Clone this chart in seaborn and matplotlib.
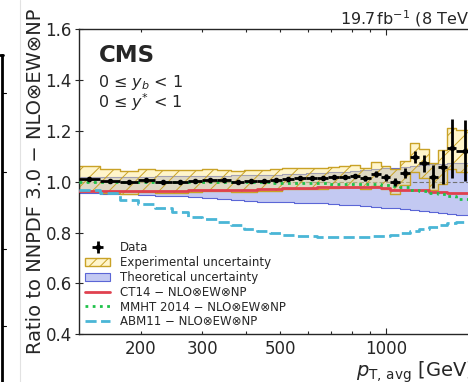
import matplotlib
matplotlib.use("Agg")
import matplotlib.pyplot as plt
import numpy as np
import pandas as pd
import seaborn as sns
from matplotlib.lines import Line2D
from matplotlib.patches import Patch

# p_T,avg bin edges [GeV]
pt_edges = [133, 153, 174, 196, 220, 245, 272, 300, 330, 362, 395, 430, 468, 507,
            548, 592, 638, 686, 737, 790, 846, 905, 967, 1032, 1101, 1172, 1248,
            1327, 1410, 1497, 1588, 1784]

# ratio of data to NNPDF 3.0 prediction
data_ratio = [1.012, 1.004, 0.998, 1.005, 1.000, 1.000, 1.002, 1.008, 1.005, 1.001,
              1.003, 1.004, 1.007, 1.012, 1.013, 1.013, 1.013, 1.017, 1.020, 1.022,
              1.013, 1.030, 1.017, 1.000, 1.036, 1.097, 1.072, 1.020, 1.058, 1.131,
              1.122]
stat_unc = [0.002, 0.002, 0.002, 0.002, 0.002, 0.002, 0.002, 0.002, 0.002, 0.002,
            0.003, 0.003, 0.003, 0.004, 0.004, 0.005, 0.005, 0.006, 0.007, 0.008,
            0.009, 0.011, 0.013, 0.016, 0.020, 0.024, 0.033, 0.045, 0.065, 0.115,
            0.120]
exp_unc = [0.050, 0.048, 0.045, 0.045, 0.045, 0.045, 0.044, 0.043, 0.042, 0.042,
           0.042, 0.042, 0.042, 0.041, 0.041, 0.041, 0.041, 0.041, 0.042, 0.043,
           0.043, 0.046, 0.044, 0.050, 0.047, 0.057, 0.058, 0.053, 0.065, 0.082,
           0.082]

# theory band (NNPDF 3.0 scale/PDF/NP uncertainty)
theo_up = [1.020, 1.020, 1.020, 1.020, 1.021, 1.022, 1.022, 1.023, 1.024, 1.025,
           1.026, 1.027, 1.028, 1.030, 1.031, 1.033, 1.035, 1.037, 1.039, 1.041,
           1.045, 1.050, 1.053, 1.056, 1.060, 1.063, 1.066, 1.068, 1.070, 1.072,
           1.075]
theo_down = [0.955, 0.953, 0.950, 0.947, 0.944, 0.942, 0.940, 0.936, 0.932, 0.928,
             0.925, 0.922, 0.920, 0.919, 0.917, 0.916, 0.915, 0.913, 0.910, 0.907,
             0.904, 0.900, 0.897, 0.895, 0.892, 0.888, 0.884, 0.880, 0.876, 0.872,
             0.868]

# alternative PDF sets
ct14 = [0.962, 0.962, 0.963, 0.963, 0.964, 0.965, 0.966, 0.967, 0.968, 0.968,
        0.969, 0.970, 0.972, 0.974, 0.975, 0.976, 0.978, 0.980, 0.980, 0.980,
        0.980, 0.978, 0.974, 0.969, 0.968, 0.967, 0.966, 0.961, 0.960, 0.955,
        0.954]
mmht = [0.999, 0.999, 0.999, 0.999, 0.999, 0.999, 0.999, 0.999, 0.999, 0.999,
        0.999, 0.999, 0.994, 0.994, 0.994, 0.994, 0.994, 0.992, 0.992, 0.992,
        0.992, 0.990, 0.987, 0.982, 0.978, 0.968, 0.963, 0.955, 0.950, 0.945,
        0.933]
abm11 = [0.967, 0.954, 0.928, 0.912, 0.895, 0.880, 0.862, 0.853, 0.840, 0.828,
         0.815, 0.805, 0.797, 0.790, 0.787, 0.785, 0.783, 0.782, 0.782, 0.782,
         0.783, 0.785, 0.788, 0.792, 0.799, 0.806, 0.816, 0.823, 0.830, 0.836,
         0.840]

model_names = ["CT14 \u2212 NLO\u2297EW\u2297NP", "MMHT 2014 \u2212 NLO\u2297EW\u2297NP",
               "ABM11 \u2212 NLO\u2297EW\u2297NP"]
model_colors = ["#e0414f", "#1fc24a", "#4ab6d6"]
model_dashes = ["", (1, 1.6), (4, 1.6)]

EXP_EDGE = "#c9a227"
EXP_FACE = (1.0, 0.92, 0.55, 0.45)
THEO_FACE = "#c3c9f2"
THEO_EDGE = "#5b66d6"

sns.set_style("ticks")
plt.rcParams["font.family"] = ["DejaVu Sans"]
plt.rcParams["hatch.color"] = EXP_EDGE
plt.rcParams["hatch.linewidth"] = 0.7


def stepped(vals):
    v = np.asarray(vals, dtype=float)
    return np.append(v, v[-1])


edges = np.asarray(pt_edges, dtype=float)
lo, hi = edges[:-1], edges[1:]
centers = np.sqrt(lo * hi)
dat = np.asarray(data_ratio)
exu = np.asarray(exp_unc)

fig = plt.figure(figsize=(4.68, 3.82), dpi=100)
ax = fig.add_axes([0.168, 0.125, 0.8444, 0.7984])
ax.set_xscale("log")

ax.fill_between(edges, stepped(theo_down), stepped(theo_up), step="post",
                facecolor=THEO_FACE, edgecolor=THEO_EDGE, lw=0.8, zorder=1)
ax.axhline(1.0, color="0.45", lw=0.8, ls=(0, (4, 2)), zorder=1.5)
ax.fill_between(edges, stepped(dat - exu), stepped(dat + exu), step="post",
                facecolor=EXP_FACE, edgecolor=EXP_EDGE,
                hatch="//", lw=1.0, zorder=2)

frames = []
for name, vals in zip(model_names, [ct14, mmht, abm11]):
    frames.append(pd.DataFrame({"pt": edges, "ratio": stepped(vals), "model": name}))
models = pd.concat(frames, ignore_index=True)

sns.lineplot(data=models, x="pt", y="ratio", hue="model", style="model",
             palette=dict(zip(model_names, model_colors)),
             dashes=dict(zip(model_names, model_dashes)),
             estimator=None, sort=False, drawstyle="steps-post", lw=2,
             legend=False, ax=ax, zorder=3)

data_h = ax.errorbar(centers, dat, xerr=[centers - lo, hi - centers], yerr=stat_unc,
                     fmt="o", color="k", ms=3, elinewidth=2, capsize=0, zorder=4)

ax.set_xlim(133, 1784)
ax.set_ylim(0.4, 1.6)
ax.set_yticks(np.arange(0.4, 1.61, 0.2))
ax.set_yticklabels([f"{v:.1f}" for v in np.arange(0.4, 1.61, 0.2)])
ax.set_xticks([1000], ["1000"])
ax.set_xticks([200, 300, 400, 500, 600, 700, 800, 900],
              ["200", "300", "", "500", "", "", "", ""], minor=True)
ax.tick_params(axis="x", which="both", direction="in", top=True, labelsize=12, pad=4)
ax.tick_params(axis="x", which="major", length=4.5, width=0.8)
ax.tick_params(axis="x", which="minor", length=2.5, width=0.8)
ax.tick_params(axis="y", which="major", direction="inout", right=True, length=6,
               width=0.8, labelsize=12, pad=2)
for sp in ax.spines.values():
    sp.set_linewidth(1.0)

ax.set_ylabel("Ratio to NNPDF 3.0 \u2212 NLO\u2297EW\u2297NP", fontsize=14)
ax.yaxis.set_label_coords(-0.085, 0.5)
ax.set_xlabel(r"$p_{\mathrm{T,\,avg}}$ [GeV]", fontsize=14, loc="right", labelpad=1)
ax.set_title(r"19.7$\,$fb$^{-1}$ (8 TeV)", loc="right", fontsize=11.5, pad=3)

ax.text(0.05, 0.915, "CMS", transform=ax.transAxes, fontsize=16.5,
        fontweight="bold", ha="left", va="center")
ax.text(0.05, 0.824, "0 \u2264 $y_b$ < 1", transform=ax.transAxes, fontsize=11.5,
        ha="left", va="center")
ax.text(0.05, 0.762, "0 \u2264 $y^{*}$ < 1", transform=ax.transAxes, fontsize=11.5,
        ha="left", va="center")

handles = [
    data_h,
    Patch(facecolor=EXP_FACE, edgecolor=EXP_EDGE, hatch="///", lw=1.0),
    Patch(facecolor=THEO_FACE, edgecolor=THEO_EDGE, lw=0.8),
]
for c, d in zip(model_colors, ["-", (0, (1, 1.6)), (0, (4, 1.6))]):
    handles.append(Line2D([], [], color=c, lw=2, ls=d))
labels = ["Data", "Experimental uncertainty", "Theoretical uncertainty"] + model_names
ax.legend(handles, labels, loc="lower left", frameon=False, fontsize=8.5,
          handlelength=2.2, handletextpad=0.8, labelspacing=0.15,
          borderaxespad=0.3, borderpad=0.2)

# edge of the neighbouring panel and page separator on the left
W, H = 468.0, 382.0
fig.add_artist(Line2D([2 / W, 2 / W], [0, 1 - 55 / H], color="k", lw=2,
                      transform=fig.transFigure))
fig.add_artist(Line2D([0, 3 / W], [1 - 55 / H, 1 - 55 / H], color="k", lw=2,
                      transform=fig.transFigure))
for ty in [93, 172, 249, 326]:
    fig.add_artist(Line2D([2 / W, 6 / W], [1 - ty / H, 1 - ty / H], color="k",
                          lw=0.8, transform=fig.transFigure))
fig.add_artist(Line2D([20 / W, 20 / W], [0, 1], color="#e2e2e2", lw=0.8,
                      transform=fig.transFigure))

fig.savefig("out.png", dpi=100)
